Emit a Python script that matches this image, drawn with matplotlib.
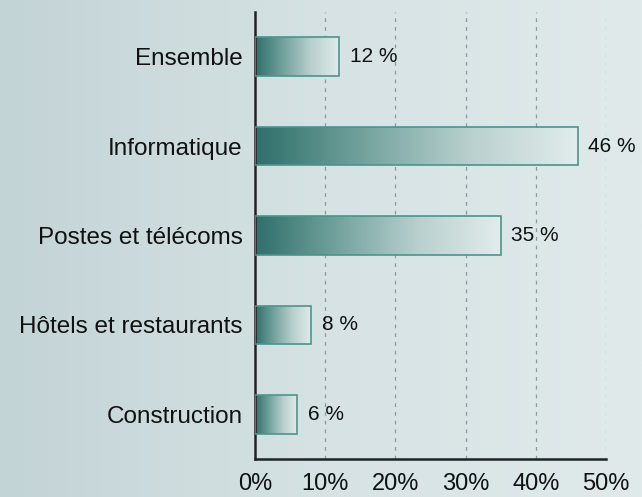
import numpy as np
import matplotlib
matplotlib.use("Agg")
import matplotlib.pyplot as plt
from matplotlib.colors import LinearSegmentedColormap

categories = ["Ensemble", "Informatique", "Postes et télécoms", "Hôtels et restaurants", "Construction"]
values = [12, 46, 35, 8, 6]
value_labels = ["12 %", "46 %", "35 %", "8 %", "6 %"]
xticks = [0, 10, 20, 30, 40, 50]
xticklabels = ["0%", "10%", "20%", "30%", "40%", "50%"]

plt.rcParams['font.family'] = ['Liberation Sans', 'DejaVu Sans']

fig = plt.figure(figsize=(6.42, 4.97), dpi=100)

# background gradient
bg = fig.add_axes([0, 0, 1, 1], zorder=-10)
bg_cmap = LinearSegmentedColormap.from_list("bg", ["#c3d4d6", "#d6e2e4", "#e0eaeb"])
bg.imshow(np.linspace(0, 1, 256).reshape(1, -1), cmap=bg_cmap, aspect='auto', extent=(0, 1, 0, 1))
bg.set_axis_off()

ax = fig.add_axes([255/642, 1-459/497, (606-255)/642, (459-12)/497])
ax.patch.set_alpha(0)

bar_cmap = LinearSegmentedColormap.from_list("bar", ["#2f6f6a", "#73a29d", "#b9d0ce", "#e2ecec"])
ypos = np.arange(len(categories))
h = 0.43
bars = ax.barh(ypos, values, height=h, facecolor='none', edgecolor='#4a958c', linewidth=1.2, zorder=3)
grad = np.linspace(0, 1, 256).reshape(1, -1)
for b, y, v, lbl in zip(bars, ypos, values, value_labels):
    im = ax.imshow(grad, cmap=bar_cmap, aspect='auto', extent=(0, v, y + h/2, y - h/2), zorder=2)
    im.set_clip_path(b)
    ax.text(v + 1.5, y, lbl, va='center', ha='left', fontsize=15, color='#111111')

ax.set_ylim(len(categories) - 0.5, -0.5)
ax.set_xlim(0, 50)
ax.set_yticks(ypos)
ax.set_yticklabels(categories, fontsize=17.5, color='#111111')
ax.set_xticks(xticks)
ax.set_xticklabels(xticklabels, fontsize=17, color='#111111')
ax.tick_params(axis='y', length=0, pad=9)
ax.tick_params(axis='x', length=0, pad=10)
for x in xticks[1:]:
    ax.axvline(x, color='#8a9a9c', linestyle=(0, (3, 4)), linewidth=0.9, zorder=1)
for s in ['top', 'right']:
    ax.spines[s].set_visible(False)
ax.spines['left'].set_linewidth(1.8)
ax.spines['bottom'].set_linewidth(1.8)
ax.spines['left'].set_color('#222222')
ax.spines['bottom'].set_color('#222222')

fig.savefig("out.png", dpi=100)
